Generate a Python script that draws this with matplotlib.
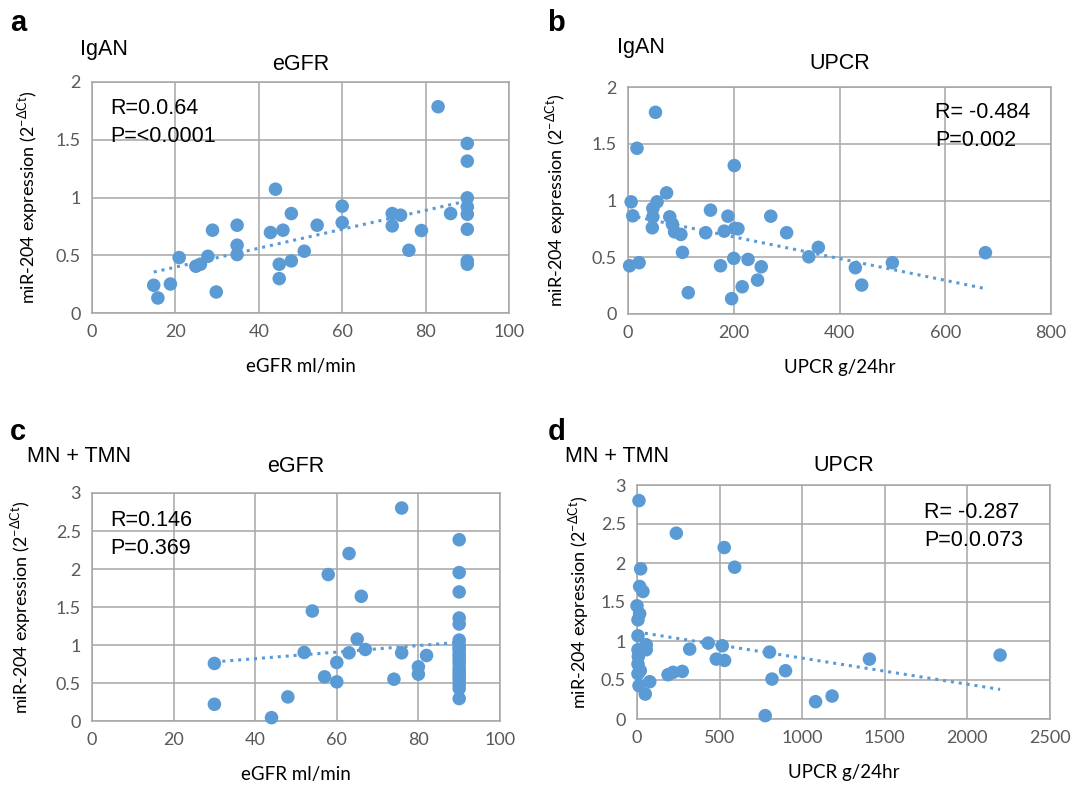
import matplotlib
matplotlib.use("Agg")
import matplotlib.pyplot as plt
import numpy as np

# ---- data ----
# a: IgAN, eGFR vs miR-204
egfr_iga = [83, 90, 90, 44, 90, 90, 90, 60, 47.8, 72, 74, 86, 72, 60, 54, 45.8, 42.8,
            34.8, 28.9, 79, 90, 34.8, 34.8, 27.8, 20.9, 50.9, 76, 47.8, 44.9, 24.9, 26,
            90, 90, 44.9, 14.8, 18.8, 15.8, 29.8]
mir_egfr_iga = [1.786, 1.468, 1.315, 1.072, 0.997, 0.919, 0.855, 0.925, 0.861, 0.861,
                0.847, 0.861, 0.754, 0.783, 0.760, 0.717, 0.697, 0.760, 0.717, 0.714,
                0.725, 0.587, 0.506, 0.491, 0.480, 0.535, 0.543, 0.451, 0.422, 0.405,
                0.422, 0.451, 0.422, 0.298, 0.240, 0.251, 0.130, 0.182]

# b: IgAN, UPCR vs miR-204
upcr_iga = [52, 17, 201, 73, 6, 55, 47, 47, 9, 79, 156, 189, 270, 46, 84, 88, 100, 147,
            182, 202, 208, 300, 360, 342, 103, 676, 3, 21, 200, 227, 175, 252, 430, 500,
            245, 216, 442, 114, 196]
mir_upcr_iga = [1.777, 1.460, 1.308, 1.067, 0.988, 0.988, 0.930, 0.856, 0.865, 0.856,
                0.915, 0.862, 0.862, 0.760, 0.792, 0.724, 0.701, 0.716, 0.730, 0.754,
                0.751, 0.716, 0.587, 0.504, 0.543, 0.540, 0.425, 0.452, 0.490, 0.481,
                0.425, 0.416, 0.408, 0.452, 0.299, 0.240, 0.255, 0.188, 0.135]

# c: MN + TMN, eGFR vs miR-204 (the column at 90 is a dense overlapping stack)
egfr_mn = [75.9, 90, 63, 57.9, 90, 66, 90, 54, 90, 90, 65, 90, 90, 52, 63, 67, 75.9, 82,
           90, 90, 90, 30, 60, 80, 80, 90, 90, 57, 60, 74, 90, 90, 48, 30, 44,
           90, 90, 90, 90, 90, 90, 90]
mir_egfr_mn = [2.802, 2.385, 2.204, 1.927, 1.953, 1.641, 1.698, 1.447, 1.355, 1.276,
               1.078, 1.065, 0.999, 0.902, 0.897, 0.941, 0.897, 0.862, 0.933, 0.845,
               0.757, 0.757, 0.770, 0.713, 0.616, 0.616, 0.537, 0.581, 0.515, 0.550,
               0.427, 0.295, 0.317, 0.220, 0.044,
               0.48, 0.58, 0.66, 0.70, 0.80, 0.88, 0.96]

# d: MN + TMN, UPCR vs miR-204 (the column near 0 is a dense overlapping stack)
upcr_mn = [12, 238, 528, 591, 22, 16, 36, 0, 16, 6, 6, 56, 6, 56, 319, 431, 516, 802, 480,
           530, 1407, 2198, 6, 6, 188, 218, 274, 899, 817, 12, 77, 50, 1181, 1081, 776,
           20, 8]
mir_upcr_mn = [2.800, 2.382, 2.198, 1.946, 1.925, 1.699, 1.635, 1.451, 1.349, 1.272,
               1.067, 0.952, 0.888, 0.888, 0.896, 0.973, 0.939, 0.858, 0.768, 0.751,
               0.768, 0.819, 0.704, 0.580, 0.568, 0.598, 0.610, 0.619, 0.512, 0.427,
               0.478, 0.320, 0.294, 0.222, 0.043,
               0.62, 0.80]

W, H = 1073, 791
blue = "#5B9BD5"
grid_c = "#A6A6A6"
tick_c = "#595959"
ylab = r"miR-204 expression (2$^{\mathregular{-\Delta Ct}}$)"

plt.rcParams["mathtext.fontset"] = "custom"
plt.rcParams["mathtext.rm"] = "Lato"

fig = plt.figure(figsize=(W / 100, H / 100), dpi=100)


def px(x, y):
    return x / W, 1 - y / H


def box(l, t, r, b):
    return [l / W, 1 - b / H, (r - l) / W, (b - t) / H]


panels = [
    dict(rect=box(92, 82, 509, 313), x=egfr_iga, y=mir_egfr_iga, xlim=(0, 100), xstep=20,
         ylim=(0, 2), ystep=0.5, title="eGFR", tpad=9, xlabel="eGFR ml/min", ylx=-0.125,
         yticks=["0", "0.5", "1", "1.5", "2"]),
    dict(rect=box(628, 87, 1051, 314), x=upcr_iga, y=mir_upcr_iga, xlim=(0, 800), xstep=200,
         ylim=(0, 2), ystep=0.5, title="UPCR", tpad=13, xlabel="UPCR g/24hr", ylx=-0.142,
         yticks=["0", "0.5", "1", "1.5", "2"]),
    dict(rect=box(92, 493, 500, 721), x=egfr_mn, y=mir_egfr_mn, xlim=(0, 100), xstep=20,
         ylim=(0, 3), ystep=0.5, title="eGFR", tpad=15, xlabel="eGFR ml/min", ylx=-0.145,
         yticks=["0", "0.5", "1", "1.5", "2", "2.5", "3"]),
    dict(rect=box(637, 485, 1050, 719), x=upcr_mn, y=mir_upcr_mn, xlim=(0, 2500), xstep=500,
         ylim=(0, 3), ystep=0.5, title="UPCR", tpad=10, xlabel="UPCR g/24hr", ylx=-0.111,
         yticks=["0", "0.5", "1", "1.5", "2", "2.5", "3"]),
]

for p in panels:
    ax = fig.add_axes(p["rect"])
    x = np.array(p["x"], dtype=float)
    y = np.array(p["y"], dtype=float)
    ax.scatter(x, y, s=95, color=blue, edgecolors="none", zorder=3, clip_on=False)
    k, c = np.polyfit(x, y, 1)
    xs = np.array([x.min(), x.max()])
    ax.plot(xs, k * xs + c, linestyle=(0, (1, 1.6)), color=blue, lw=2.2, zorder=2)
    ax.set_xlim(*p["xlim"])
    ax.set_ylim(*p["ylim"])
    ax.set_xticks(np.arange(p["xlim"][0], p["xlim"][1] + 1e-9, p["xstep"]))
    ax.set_yticks(np.arange(p["ylim"][0], p["ylim"][1] + 1e-9, p["ystep"]))
    ax.set_yticklabels(p["yticks"])
    ax.grid(True, color=grid_c, lw=1.1, zorder=0)
    ax.set_axisbelow(True)
    for s in ax.spines.values():
        s.set_color(grid_c)
        s.set_linewidth(1.1)
    ax.tick_params(length=0, labelsize=13, labelcolor=tick_c)
    ax.tick_params(axis="x", pad=8)
    ax.tick_params(axis="y", pad=8)
    for lab in ax.get_xticklabels() + ax.get_yticklabels():
        lab.set_family("Lato")
    ax.set_title(p["title"], fontsize=15.5, family="Liberation Sans", pad=p["tpad"])
    ax.set_xlabel(p["xlabel"], fontsize=13.5, family="Lato", labelpad=13)
    ax.set_ylabel(ylab, fontsize=13, family="Lato")
    ax.yaxis.set_label_coords(p["ylx"], 0.5)

# panel letters and group labels
for letter, (lx, ly) in [("a", (10, 23)), ("b", (547, 23)), ("c", (10, 432)), ("d", (548, 432))]:
    fig.text(*px(lx, ly), letter, fontsize=21, fontweight="bold", family="Liberation Sans",
             va="center", ha="left")
for txt, (lx, ly) in [("IgAN", (80, 49)), ("IgAN", (617, 48)),
                      ("MN + TMN", (27, 457)), ("MN + TMN", (565, 457))]:
    fig.text(*px(lx, ly), txt, fontsize=15.5, family="Liberation Sans", va="center", ha="left")

# statistics annotations
stats = [("R=0.0.64", (110, 108)), ("P=<0.0001", (110, 137)),
         ("R= -0.484", (935, 113)), ("P=0.002", (935, 141)),
         ("R=0.146", (110, 520)), ("P=0.369", (110, 548)),
         ("R= -0.287", (924, 513)), ("P=0.0.073", (924, 540))]
for txt, (lx, ly) in stats:
    fig.text(*px(lx, ly), txt, fontsize=15.5, family="Liberation Sans", va="center", ha="left")

fig.savefig("out.png", dpi=100)
